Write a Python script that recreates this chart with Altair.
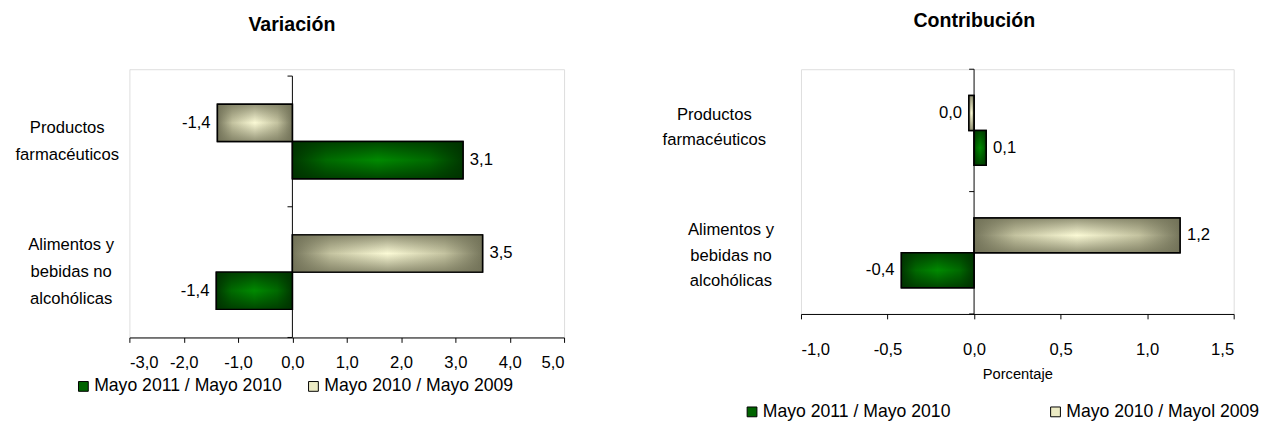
import json
import altair as alt
import pandas as pd

FONT = "Liberation Sans"

# ---------------- data ----------------
cat_lines = [["Productos", "farmacéuticos"], ["Alimentos  y", "bebidas no", "alcohólicas"]]
categories = ["Productos farmacéuticos", "Alimentos y bebidas no alcohólicas"]

series_var = ["Mayo 2011 / Mayo 2010", "Mayo 2010 / Mayo 2009"]
series_con = ["Mayo 2011 / Mayo 2010", "Mayo 2010 / Mayol 2009"]

var_2011 = [3.14, -1.40]
var_2010 = [-1.38, 3.50]
con_2011 = [0.07, -0.42]
con_2010 = [-0.03, 1.19]

var_ticks = [-3, -2, -1, 0, 1, 2, 3, 4, 5]
con_ticks = [-1.0, -0.5, 0.0, 0.5, 1.0, 1.5]

band_edges = [0, 1, 2]

# ---------------- styles ----------------
GREEN_SOLID = "#006400"
GRAY_SOLID = "#ecebc4"


def hgrad(edge, mid, center):
    return {"gradient": "linear", "x1": 0, "y1": 0, "x2": 1, "y2": 0,
            "stops": [{"offset": 0, "color": edge}, {"offset": 0.2, "color": mid},
                      {"offset": 0.5, "color": center}, {"offset": 0.8, "color": mid},
                      {"offset": 1, "color": edge}]}


def vgrad(shade):
    return {"gradient": "linear", "x1": 0, "y1": 0, "x2": 0, "y2": 1,
            "stops": [{"offset": 0, "color": shade.format(0.75)},
                      {"offset": 0.5, "color": shade.format(0.0)},
                      {"offset": 1, "color": shade.format(0.75)}]}


GREEN_H = hgrad("#003800", "#006a00", "#008a00")
GRAY_H = hgrad("#76765c", "#c4c3a0", "#fbfad6")
GREEN_V = vgrad("rgba(0,48,0,{})")
GRAY_V = vgrad("rgba(112,112,86,{})")

NUM = "replace(replace(format({v}, '.1f'), '.', ','), '\u2212', '-')"

IS_FIRST = "datum.value == {}".format(json.dumps(categories[0], ensure_ascii=False))
cat_expr = "{} ? {} : {}".format(
    IS_FIRST,
    json.dumps(cat_lines[0], ensure_ascii=False),
    json.dumps(cat_lines[1], ensure_ascii=False),
)


def per_cat(first, second):
    return {"condition": {"test": IS_FIRST, "value": first}, "value": second}


def panel(title, series, v_a, v_b, ticks, xdom, width, height, yrange, title_dx,
          title_off, cat_pads, cat_offs, cat_lh, xlab_pad, xtitle, leg_x, leg_y,
          leg_colpad):
    rows = []
    for c, a, b in zip(categories, v_a, v_b):
        rows.append({"cat": c, "series": series[0], "value": a})
        rows.append({"cat": c, "series": series[1], "value": b})
    df = pd.DataFrame(rows)

    yscale = dict(domain=categories, paddingInner=0.43, paddingOuter=0.215)
    if yrange is not None:
        yscale["range"] = yrange

    xaxis = dict(values=ticks, labelExpr=NUM.format(v="datum.value"), grid=False,
                 domainColor="#000000", domainWidth=1, tickColor="#000000", tickSize=5,
                 labelFont=FONT, labelFontSize=17, labelColor="#000000",
                 labelPadding=xlab_pad, title=xtitle)
    if xtitle:
        xaxis.update(titleFont=FONT, titleFontSize=15, titleFontWeight="normal",
                     titleColor="#000000", titlePadding=10)

    base = alt.Chart(df).encode(
        y=alt.Y("cat:N", title=None, sort=categories, scale=alt.Scale(**yscale),
                axis=alt.Axis(domain=False, ticks=False, tickSize=0, labelAlign="center",
                              labelBaseline="middle",
                              labelPadding=per_cat(*cat_pads),
                              labelOffset=per_cat(*cat_offs),
                              labelExpr=cat_expr, labelFont=FONT, labelFontSize=17,
                              labelColor="#000000", labelLineHeight=cat_lh, labelLimit=0)),
        yOffset=alt.YOffset("series:N", sort=[series[1], series[0]],
                            scale=alt.Scale(domain=[series[1], series[0]],
                                            paddingInner=0, paddingOuter=0)),
        x=alt.X("value:Q", scale=alt.Scale(domain=xdom, nice=False),
                axis=alt.Axis(**xaxis)),
    )

    legend_bars = base.mark_bar(stroke="#000000", strokeWidth=1.5).encode(
        color=alt.Color("series:N", sort=series,
                        scale=alt.Scale(domain=series, range=[GREEN_SOLID, GRAY_SOLID]),
                        legend=alt.Legend(title=None, orient="none", legendX=leg_x,
                                          legendY=leg_y, direction="horizontal",
                                          columns=2, columnPadding=leg_colpad,
                                          padding=0, symbolType="square",
                                          symbolSize=100, symbolStrokeColor="#000000",
                                          symbolStrokeWidth=1, labelFont=FONT,
                                          labelFontSize=18, labelColor="#000000",
                                          labelLimit=0, labelOffset=2))
    )
    cond = "datum.series == {}".format(json.dumps(series[0], ensure_ascii=False))
    grad_h = base.mark_bar(strokeWidth=0).encode(
        fill=alt.condition(cond, alt.value(GREEN_H), alt.value(GRAY_H))
    )
    grad_v = base.mark_bar(stroke="#000000", strokeWidth=1.5).encode(
        fill=alt.condition(cond, alt.value(GREEN_V), alt.value(GRAY_V))
    )
    txt = base.transform_calculate(lbl=NUM.format(v="datum.value"))
    txt_pos = txt.transform_filter("datum.value >= 0").mark_text(
        align="left", baseline="middle", dx=7, font=FONT, fontSize=17, color="#000000"
    ).encode(text="lbl:N")
    txt_neg = txt.transform_filter("datum.value < 0").mark_text(
        align="right", baseline="middle", dx=-7, font=FONT, fontSize=17, color="#000000"
    ).encode(text="lbl:N")

    bars = alt.layer(legend_bars, grad_h, grad_v, txt_pos, txt_neg)

    qrange = [yrange[1], yrange[0]] if yrange is not None else [height, 0]
    qscale = alt.Scale(domain=[0, 2], range=qrange, nice=False)
    edges = pd.DataFrame({"p": band_edges})
    span = pd.DataFrame({"p0": [band_edges[0]], "p1": [band_edges[-1]]})
    zero_line = alt.Chart(span).mark_rule(color="#000000", strokeWidth=1).encode(
        x=alt.datum(0), y=alt.Y("p0:Q", scale=qscale, axis=None), y2="p1:Q"
    )
    zero_ticks = alt.Chart(edges).mark_rule(color="#000000", strokeWidth=1, xOffset=-5).encode(
        x=alt.datum(0), x2=alt.datum(0), y=alt.Y("p:Q", scale=qscale, axis=None)
    )

    return alt.layer(bars, zero_line, zero_ticks).resolve_scale(y="independent").properties(
        width=width, height=height,
        title=alt.TitleParams(text=title, font=FONT, fontSize=20, fontWeight="bold",
                              color="#000000", frame="group", anchor="middle",
                              baseline="middle", dx=title_dx, offset=title_off),
    )


left = panel("Variación", series_var, var_2011, var_2010, var_ticks, [-3, 5],
             444, 274, [7, 274], -56, 25, (64, 60), (-14, -28), 28, 13, None,
             -56, 315, 23)
right = panel("Contribución", series_con, con_2011, con_2010, con_ticks, [-1.0, 1.5],
              442, 250, None, -44, 29, (89, 72), (-16, -23), 26, 23, "Porcentaje",
              -59, 341, 98)

chart = alt.hconcat(left, right, spacing=98).resolve_scale(
    color="independent", yOffset="independent"
).configure_view(stroke=None).configure(font=FONT).properties(
    padding={"left": 6, "top": -2, "right": 5, "bottom": 5}, background="white"
)

chart.save("out.html", embed_options={"renderer": "svg", "actions": False})
